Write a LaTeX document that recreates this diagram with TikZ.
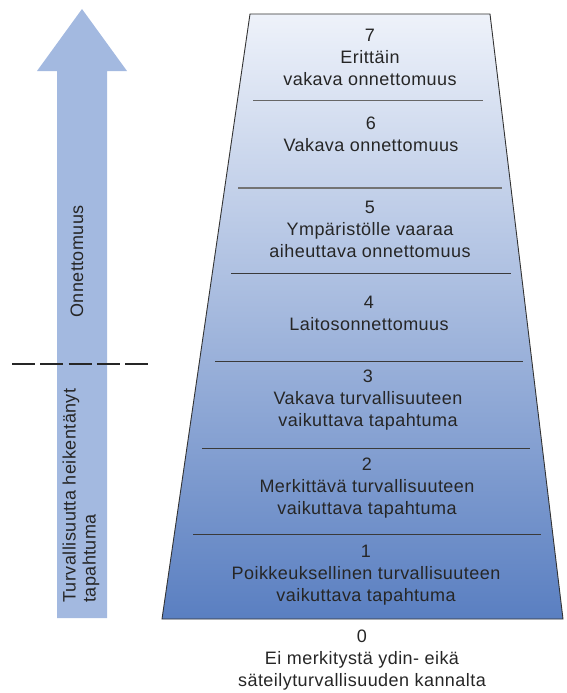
\documentclass[tikz,border=0pt]{standalone}
\usepackage{fontspec}
\setmainfont[LetterSpace=2.5]{Liberation Sans}
\definecolor{arrowblue}{HTML}{A3B9E0}
\definecolor{toplight}{HTML}{EEF2FA}
\definecolor{botdark}{HTML}{5A7FC1}
\definecolor{divgray}{HTML}{3A3A3A}
\begin{document}
\begin{tikzpicture}[x=1pt,y=-1pt,
  lvl/.style={align=center, inner sep=0pt, font=\fontsize{18}{22}\selectfont, text=black!85},
  side/.style={rotate=90, align=left, inner sep=0pt, font=\fontsize{18}{20}\selectfont, text=black!85},
  divider/.style={draw=divgray, line width=1pt}]
\path[use as bounding box] (0,0) rectangle (566,693);
% arrow
\fill[arrowblue] (57,618) -- (57,71) -- (37,71) -- (82,9) -- (127,71) -- (107,71) -- (107,618) -- cycle;
% trapezoid
\path[top color=toplight, bottom color=botdark, draw=black!80, line width=0.9pt]
  (250,14) -- (490,14) -- (563,619) -- (162,619) -- cycle;
% dividers
\draw[divider, draw=black!60, line width=1.8pt] (253,100.5) -- (483,100.5);
\draw[divider, draw=black!55, line width=2pt] (238,188) -- (502,188);
\draw[divider] (231,273) -- (511,273);
\draw[divider] (215,361) -- (523,361);
\draw[divider] (202,448) -- (530,448);
\draw[divider] (193,534) -- (541,534);
% dashed separator
\draw[black!85, line width=1.3pt, dash pattern=on 23pt off 5.3pt] (12,364) -- (149,364);
% levels
\node[lvl] (l7) at (370,57) {7\\Erittäin\\vakava onnettomuus};
\node[lvl] (l6) at (371,134) {6\\Vakava onnettomuus};
\node[lvl] (l5) at (370,229) {5\\Ympäristölle vaaraa\\aiheuttava onnettomuus};
\node[lvl] (l4) at (369,313) {4\\Laitosonnettomuus};
\node[lvl] (l3) at (368,400) {3\\Vakava turvallisuuteen\\vaikuttava tapahtuma};
\node[lvl] (l2) at (367,488) {2\\Merkittävä turvallisuuteen\\vaikuttava tapahtuma};
\node[lvl] (l1) at (366,575) {1\\Poikkeuksellinen turvallisuuteen\\vaikuttava tapahtuma};
\node[lvl] (l0) at (362,660) {0\\Ei merkitystä ydin- eikä\\säteilyturvallisuuden kannalta};
% side labels
\node[side, anchor=west] (onn) at (77,318) {Onnettomuus};
\node[side, anchor=west] (turv) at (81,603) {Turvallisuutta heikentänyt\\tapahtuma};
\end{tikzpicture}
\end{document}
